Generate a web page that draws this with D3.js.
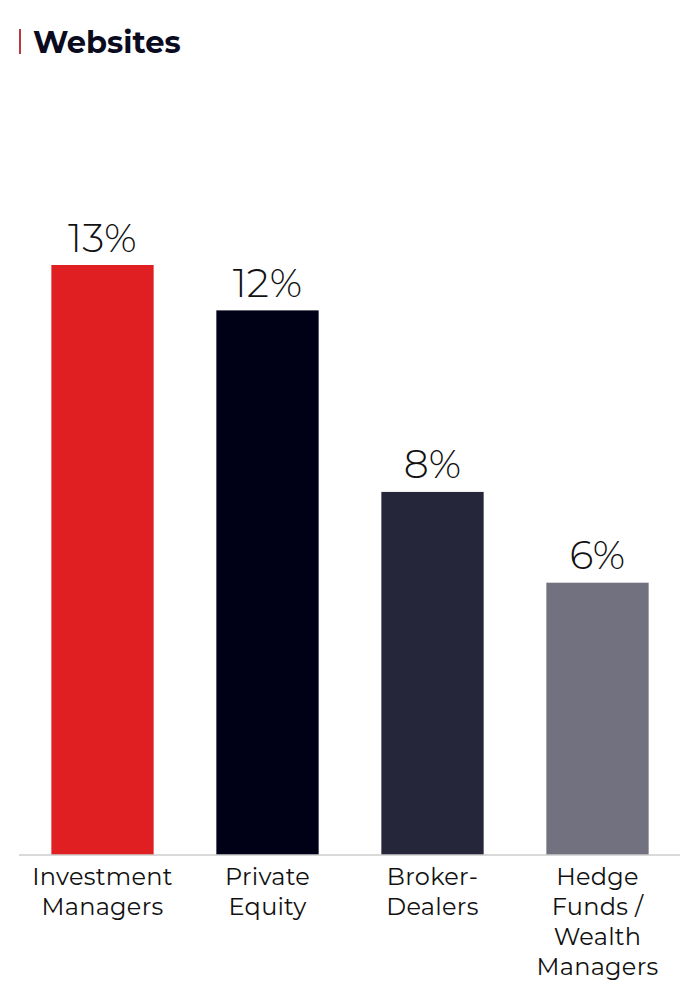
<!DOCTYPE html>
<html>
<head>
<meta charset="utf-8">
<script src="https://cdn.jsdelivr.net/npm/d3@7"></script>
<style>
  html, body { margin: 0; padding: 0; background: #fff; }
  svg { display: block; }
</style>
</head>
<body>
<svg id="chart" width="700" height="1000"></svg>
<script>
const categories = [
  ["Investment", "Managers"],
  ["Private", "Equity"],
  ["Broker-", "Dealers"],
  ["Hedge", "Funds /", "Wealth", "Managers"]
];
const values = [13, 12, 8, 6];
const valueLabels = ["13%", "12%", "8%", "6%"];
const colors = ["#e01f22", "#000017", "#25263a", "#72717f"];
const title = "Websites";

const svg = d3.select("#chart");
const font = "Montserrat, Inter, 'Open Sans', sans-serif";

// Title
svg.append("rect").attr("x", 19).attr("y", 29).attr("width", 2).attr("height", 25).attr("fill", "#b83a3e");
svg.append("text").attr("x", 33).attr("y", 53)
  .attr("font-family", font).attr("font-weight", 700).attr("font-size", 30.5)
  .attr("fill", "#0b0b1f").text(title);

const baseY = 855;
const x = d3.scaleBand().domain(d3.range(values.length)).range([20, 680])
  .paddingInner(0.38).paddingOuter(0.19);
const y = d3.scaleLinear().domain([0, 13]).range([baseY, 265]);

svg.selectAll("rect.bar").data(values).join("rect")
  .attr("class", "bar")
  .attr("x", (d, i) => x(i)).attr("width", x.bandwidth())
  .attr("y", d => y(d)).attr("height", d => baseY - y(d))
  .attr("fill", (d, i) => colors[i]);

svg.selectAll("text.val").data(values).join("text")
  .attr("class", "val")
  .attr("x", (d, i) => x(i) + x.bandwidth() / 2)
  .attr("y", d => y(d) - 13.5)
  .attr("text-anchor", "middle")
  .attr("font-family", font).attr("font-weight", 300).attr("font-size", 39.5)
  .attr("letter-spacing", 0.3)
  .attr("fill", "#111")
  .text((d, i) => valueLabels[i]);

// Axis
const axis = d3.axisBottom(x).tickSize(0).tickFormat("");
const g = svg.append("g").attr("transform", `translate(0,${baseY})`).call(axis);
g.select(".domain").attr("stroke", "#cccccc").attr("stroke-width", 1.5).attr("d", "M19,0H680");

g.selectAll(".tick").each(function(d, i) {
  const t = d3.select(this).append("text")
    .attr("text-anchor", "middle")
    .attr("font-family", font).attr("font-weight", 400).attr("font-size", 24)
    .attr("letter-spacing", 0.3)
    .attr("fill", "#111");
  categories[i].forEach((line, j) => {
    t.append("tspan").attr("x", 0).attr("y", 29.5 + j * 30).text(line);
  });
});
</script>
</body>
</html>
